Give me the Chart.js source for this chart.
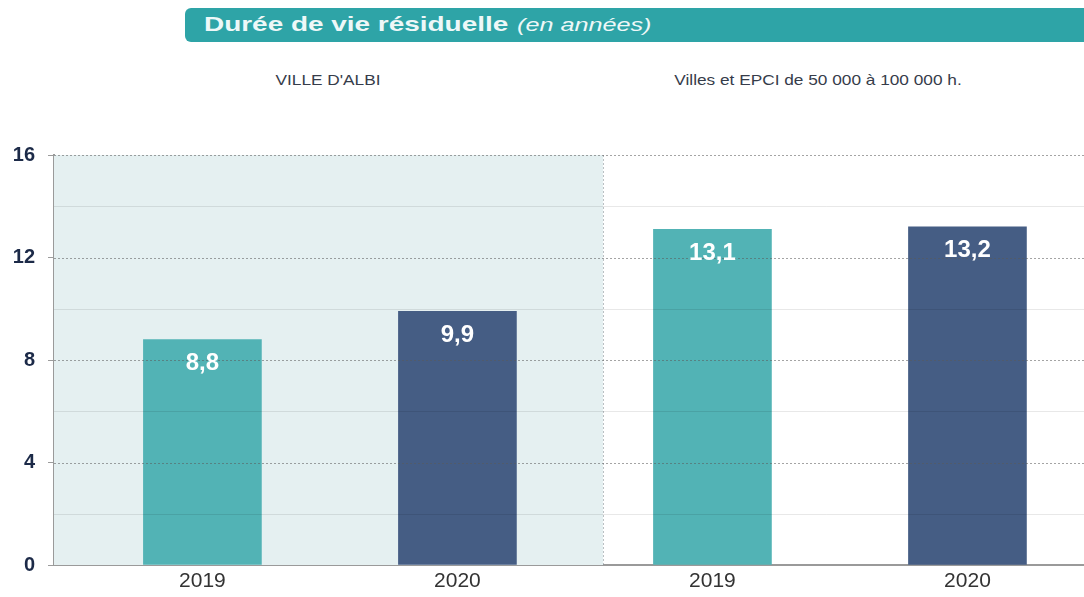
<!DOCTYPE html>
<html>
<head>
<meta charset="utf-8">
<script src="https://cdn.jsdelivr.net/npm/chart.js@4"></script>
<style>
  body { margin: 0; background: #fff; width: 1084px; height: 597px; overflow: hidden; position: relative; font-family: Arial, "Liberation Sans", sans-serif; }
  #banner { position: absolute; left: 185px; top: 8px; width: 930px; height: 34px; background: #2ea4a7; border-radius: 6px; }
  #banner span { position: absolute; white-space: nowrap; color: #eef8f8; transform-origin: 0 50%; }
  #t1 { left: 19px; top: 4px; font-weight: bold; font-size: 21px; transform: scaleX(1.33); }
  #t2 { left: 332px; top: 7px; font-style: italic; font-size: 18px; transform: scaleX(1.4); }
  .sub { position: absolute; top: 71px; font-size: 15px; color: #363c4a; white-space: nowrap; transform: translateX(-50%) scaleX(1.15); }
  #wrap { position: absolute; left: 0; top: 0; width: 1084px; height: 597px; }
</style>
</head>
<body>
<div id="banner"><span id="t1">Durée de vie résiduelle</span><span id="t2">(en années)</span></div>
<div class="sub" style="left:328px">VILLE D'ALBI</div>
<div class="sub" style="left:818px">Villes et EPCI de 50 000 à 100 000 h.</div>
<div id="wrap"><canvas id="chart"></canvas></div>
<script>
const groups = ["VILLE D'ALBI", "Villes et EPCI de 50 000 à 100 000 h."];
const years = ["2019", "2020", "2019", "2020"];
const values = [8.8, 9.9, 13.1, 13.2];
const yTicks = [0, 4, 8, 12, 16];

const teal = "#52b3b5";
const navy = "#455d84";

let chart;

// shaded block behind the first group and the dotted divider
const backdrop = {
  id: "backdrop",
  beforeDatasetsDraw(c) {
    const a = c.chartArea;
    const xs = c.scales.x;
    const mid = Math.round(xs.getPixelForValue(1.57));
    const ctx = c.ctx;
    ctx.save();
    ctx.fillStyle = "#e5f0f1";
    ctx.fillRect(a.left, a.top, mid - a.left, a.bottom - a.top);
    ctx.strokeStyle = "rgba(140,150,155,0.6)";
    ctx.lineWidth = 1;
    ctx.setLineDash([2, 2]);
    ctx.beginPath();
    ctx.moveTo(mid + 0.5, a.top);
    ctx.lineTo(mid + 0.5, a.bottom);
    ctx.stroke();
    ctx.restore();
  },
  afterDatasetsDraw(c) {
    const a = c.chartArea;
    const ys = c.scales.y;
    const ctx = c.ctx;
    ctx.save();
    for (let v = 2; v <= 16; v += 2) {
      const y = Math.round(ys.getPixelForValue(v)) + 0.5;
      ctx.beginPath();
      if (v % 4 === 0) {
        ctx.strokeStyle = "rgba(90,90,90,0.55)";
        ctx.setLineDash([2, 2]);
      } else {
        ctx.strokeStyle = "rgba(0,0,0,0.09)";
        ctx.setLineDash([]);
      }
      ctx.moveTo(a.left, y);
      ctx.lineTo(a.right, y);
      ctx.stroke();
    }
    ctx.setLineDash([]);
    // value labels inside the bars
    ctx.fillStyle = "#ffffff";
    ctx.font = "bold 24px Arial, 'Liberation Sans', sans-serif";
    ctx.textAlign = "center";
    ctx.textBaseline = "middle";
    c.getDatasetMeta(0).data.forEach((bar, i) => {
      ctx.fillText(values[i].toFixed(1).replace(".", ","), bar.x, bar.y + 24);
    });
    ctx.restore();
  }
};

function plotChart() {
  const ctx = document.getElementById("chart").getContext("2d");
  chart = new Chart(ctx, {
    type: "bar",
    data: {
      datasets: [
        {
          data: values.map((v, i) => ({ x: i, y: v })),
          backgroundColor: years.map((y) => (y === "2019" ? teal : navy)),
          barThickness: 118,
        },
      ],
    },
    options: {
      responsive: true,
      maintainAspectRatio: false,
      animation: false,
      layout: { padding: { top: 155, right: 0, left: 0, bottom: 0 } },
      plugins: { legend: { display: false }, tooltip: { enabled: false } },
      scales: {
        x: {
          type: "linear",
          offset: false,
          min: -0.582,
          max: 3.457,
          afterFit: (s) => { s.height = 32; },
          grid: { display: false, drawTicks: false },
          border: { display: true, color: "#9a9a9a", width: 2 },
          ticks: {
            stepSize: 1,
            includeBounds: false,
            autoSkip: false,
            maxRotation: 0,
            padding: 4,
            color: "#333",
            font: { family: "Arial, 'Liberation Sans', sans-serif", size: 21 },
            callback: (v) => (Number.isInteger(v) && years[v] ? years[v] : ""),
          },
        },
        y: {
          min: 0,
          max: 16,
          afterFit: (s) => { s.width = 54; },
          grid: {
            drawOnChartArea: false,
            tickLength: 6,
            tickColor: (c) => (c.tick && yTicks.includes(c.tick.value) ? "rgba(90,90,90,0.6)" : "rgba(0,0,0,0)"),
          },
          border: { display: true, color: "#9a9a9a", width: 2 },
          ticks: {
            stepSize: 2,
            padding: 13,
            color: "#1c2a48",
            font: { family: "Arial, 'Liberation Sans', sans-serif", size: 20, weight: "bold" },
            callback: (v) => (yTicks.includes(v) ? String(v) : ""),
          },
        },
      },
    },
    plugins: [backdrop],
  });
}

plotChart();
</script>
</body>
</html>
